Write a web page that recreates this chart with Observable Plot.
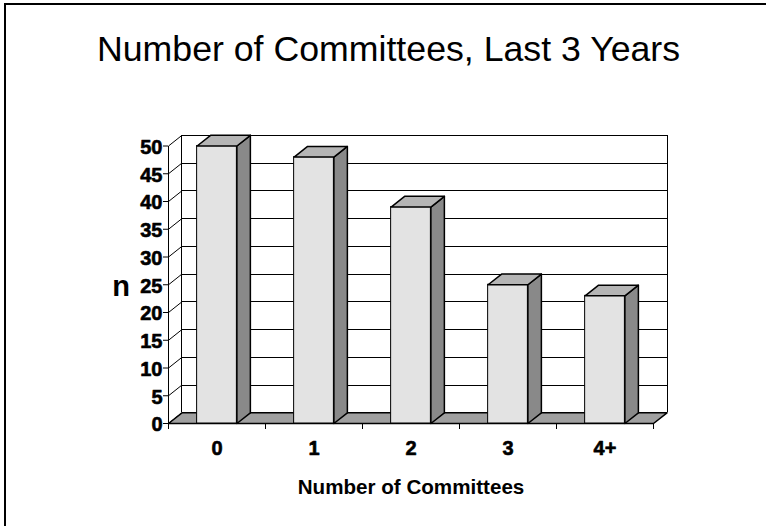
<!DOCTYPE html>
<html><head><meta charset="utf-8">
<script src="https://cdn.jsdelivr.net/npm/d3@7"></script>
<script src="https://cdn.jsdelivr.net/npm/@observablehq/plot@0.6"></script>
<style>
html,body{margin:0;padding:0;background:#fff;overflow:hidden}
#chart svg{display:block}
g[aria-label="ytick-labels"] text, g[aria-label="xtick-labels"] text{letter-spacing:1.5px}
</style>
</head><body><div id="chart"></div>
<script>
const title = "Number of Committees, Last 3 Years";
const xTitle = "Number of Committees";
const yTitle = "n";
const categories = ["0", "1", "2", "3", "4+"];
const counts = [50, 48, 39, 25, 23];
const yTicks = [0, 5, 10, 15, 20, 25, 30, 35, 40, 45, 50];

const DX = 0.139, DY = 1.93, HALF = 0.205;
const n = categories.length, yMax = 50;
const FONT = "Arial, 'Liberation Sans', sans-serif";

const bars = categories.map((c, i) => ({c, i, v: counts[i], x1: i + 0.5 - HALF, x2: i + 0.5 + HALF}));
const sides = bars.flatMap(b => [[b.x2, 0], [b.x2 + DX, DY], [b.x2 + DX, b.v + DY], [b.x2, b.v]].map(([x, y]) => ({id: b.c, x, y})));
const tops = bars.flatMap(b => [[b.x1, b.v], [b.x2, b.v], [b.x2 + DX, b.v + DY], [b.x1 + DX, b.v + DY]].map(([x, y]) => ({id: b.c, x, y})));
const floor = [[0, 0], [n, 0], [n + DX, DY], [DX, DY]].map(([x, y]) => ({x, y}));

const plot = Plot.plot({
  width: 766, height: 526,
  marginLeft: 168, marginRight: 99.5, marginTop: 134.8, marginBottom: 103,
  x: {domain: [0, n + DX], axis: null},
  y: {domain: [0, yMax + DY], axis: null},
  style: {fontFamily: FONT, background: "white", color: "black", overflow: "hidden"},
  marks: [
    Plot.ruleY(yTicks.slice(1), {y: d => d + DY, x1: DX, x2: n + DX, stroke: "black", strokeWidth: 1, shapeRendering: "crispEdges"}),
    Plot.ruleX([DX, n + DX], {y1: DY, y2: yMax + DY, stroke: "black", shapeRendering: "crispEdges"}),
    Plot.link(yTicks, {x1: 0, y1: d => d, x2: DX, y2: d => d + DY, stroke: "black"}),
    Plot.line(floor, {x: "x", y: "y", fill: "#a0a0a0", stroke: "black", curve: "linear-closed"}),
    Plot.ruleX([0], {y1: 0, y2: yMax, stroke: "black", shapeRendering: "crispEdges"}),
    Plot.rect(bars, {x1: "x1", x2: "x2", y1: 0, y2: "v", fill: "#e3e3e3", stroke: "black"}),
    Plot.line(sides, {x: "x", y: "y", z: "id", fill: "#898989", stroke: "black", curve: "linear-closed"}),
    Plot.line(tops, {x: "x", y: "y", z: "id", fill: "#b5b5b5", stroke: "black", curve: "linear-closed"}),
    Plot.axisY(yTicks, {tickSize: 5, tickFormat: () => "", label: null}),
    Plot.axisX(d3.range(n + 1), {tickSize: 6, tickFormat: () => "", label: null}),
    Plot.text(yTicks, {y: d => d, text: d => String(d), frameAnchor: "left", textAnchor: "end", lineAnchor: "middle", dx: -6, dy: 1.5,
      fontSize: 20, fontWeight: "bold", fill: "black", stroke: "black", strokeWidth: 0.6, ariaLabel: "ytick-labels"}),
    Plot.text(bars, {x: b => b.i + 0.5, text: "c", frameAnchor: "bottom", lineAnchor: "middle", dy: 24.6,
      fontSize: 20, fontWeight: "bold", fill: "black", stroke: "black", strokeWidth: 0.6, ariaLabel: "xtick-labels"}),
    Plot.text([xTitle], {text: d => d, x: n / 2, frameAnchor: "bottom", lineAnchor: "middle", dy: 64.4, fontSize: 20.6, fontWeight: "bold"}),
    Plot.text([yTitle], {text: d => d, frameAnchor: "left", textAnchor: "middle", lineAnchor: "middle", dx: -47.5, dy: 7.2, fontSize: 29, fontWeight: "bold"}),
    Plot.text([title], {text: d => d, x: n / 2, frameAnchor: "top", lineAnchor: "middle", dx: -22.5, dy: -86.2, fontSize: 35.7})
  ]
});
const border = d3.select(plot).append("g").attr("stroke", "black").attr("stroke-width", 2);
border.append("line").attr("x1", 4).attr("x2", 766).attr("y1", 4).attr("y2", 4);
border.append("line").attr("x1", 5).attr("x2", 5).attr("y1", 3).attr("y2", 526);
document.getElementById("chart").appendChild(plot);
</script>
</body></html>
